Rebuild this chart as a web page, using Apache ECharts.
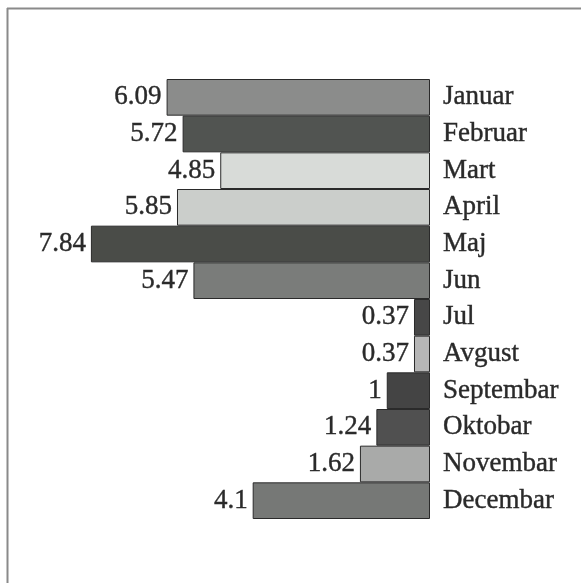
<!DOCTYPE html>
<html>
<head>
<meta charset="utf-8">
<script src="https://cdn.jsdelivr.net/npm/echarts@6/dist/echarts.min.js"></script>
<style>
html,body{margin:0;padding:0;background:#fff;}
#c{width:581px;height:583px;}
</style>
</head>
<body>
<div id="c"></div>
<script>
var months = ['Januar','Februar','Mart','April','Maj','Jun','Jul','Avgust','Septembar','Oktobar','Novembar','Decembar'];
var values = [6.09, 5.72, 4.85, 5.85, 7.84, 5.47, 0.37, 0.37, 1, 1.24, 1.62, 4.1];
var barColors = ['#8b8c8b','#515451','#d8dbd8','#cbcecb','#4a4c48','#7a7c7a','#474747','#b6b6b6','#444444','#505050','#a9aaa9','#767876'];

var chart = echarts.init(document.getElementById('c'));
chart.setOption({
  backgroundColor: '#ffffff',
  animation: false,
  graphic: [
    {type:'line', shape:{x1:7, y1:8.5, x2:581, y2:8.5}, style:{stroke:'#8a8a8a', lineWidth:2}},
    {type:'line', shape:{x1:7.5, y1:8, x2:7.5, y2:583}, style:{stroke:'#8a8a8a', lineWidth:2}}
  ],
  grid: {left: 84, right: 151, top: 79, bottom: 64, containLabel: false},
  xAxis: {
    type: 'value', min: 0, max: 8, inverse: true, show: false
  },
  yAxis: {
    type: 'category', data: months, inverse: true, position: 'right',
    axisLine: {show: false}, axisTick: {show: false},
    axisLabel: {margin: 13, fontFamily: 'Liberation Serif', fontSize: 27, color: '#2a2a2a',
      textBorderColor: '#2a2a2a', textBorderWidth: 0.4}
  },
  series: [{
    type: 'bar',
    data: values.map(function(v, i){ return {value: v, itemStyle: {color: barColors[i]}}; }),
    barCategoryGap: '0%',
    itemStyle: {borderColor: '#2a2a2a', borderWidth: 1},
    label: {
      show: true, position: 'left', distance: 5,
      fontFamily: 'Liberation Serif', fontSize: 27, color: '#2a2a2a',
      textBorderColor: '#2a2a2a', textBorderWidth: 0.4,
      formatter: function(p){ return String(p.value); }
    }
  }]
});
</script>
</body>
</html>
